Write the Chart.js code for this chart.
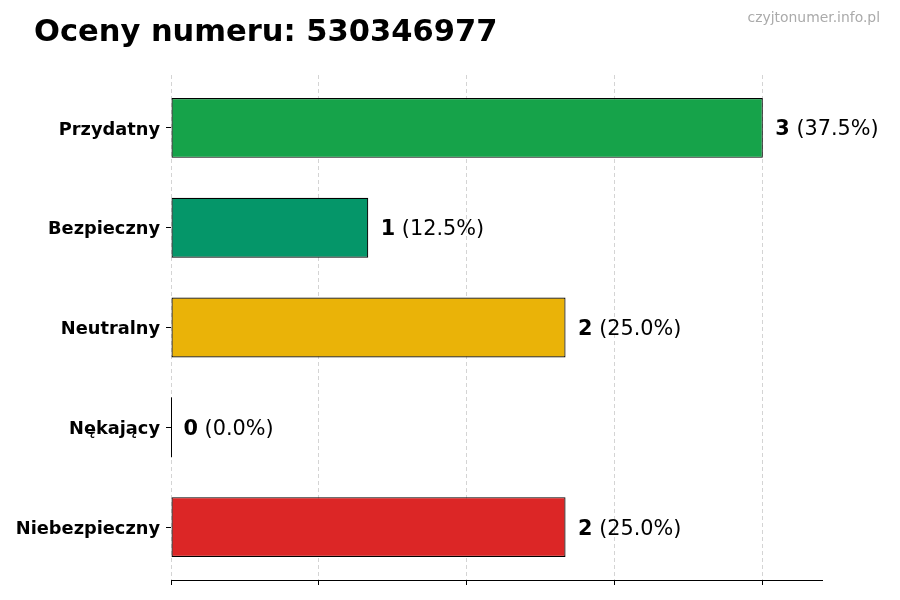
<!DOCTYPE html>
<html>
<head>
<meta charset="utf-8">
<script src="https://cdn.jsdelivr.net/npm/chart.js@4.4.1/dist/chart.umd.min.js"></script>
<style>
    html, body { margin: 0; padding: 0; background: #ffffff; }
    #wrap { position: relative; width: 900px; height: 600px; }
</style>
</head>
<body>
<div id="wrap"><canvas id="canvasOceny"></canvas></div>
<script>
// dane wykresu
var tytul = 'Oceny numeru: 530346977';
var znakWodny = 'czyjtonumer.info.pl';
var kategorie = ['Przydatny', 'Bezpieczny', 'Neutralny', 'Nękający', 'Niebezpieczny'];
var liczby = [3, 1, 2, 0, 2];
var kolory = ['#16a34a', '#059669', '#eab308', '#7c3aed', '#dc2626'];
var xTicki = [0, 0.75, 1.5, 2.25, 3];

var FONT = '"DejaVu Sans", "Liberation Sans", sans-serif';

var suma = liczby.reduce(function (a, b) { return a + b; }, 0);
var maxX = Math.max.apply(null, liczby) * 1.1;

var punkty = liczby.map(function (v, i) {
    return { x: v, y: i };
});

var etykiety = {
    id: 'etykiety',
    afterDatasetsDraw: function (chart) {
        var ctx = chart.ctx;
        var meta = chart.getDatasetMeta(0);
        var x0 = chart.scales.x.getPixelForValue(0);
        ctx.save();
        meta.data.forEach(function (bar, i) {
            var v = liczby[i];
            if (v === 0) {
                ctx.strokeStyle = '#000000';
                ctx.lineWidth = 1;
                ctx.beginPath();
                ctx.moveTo(x0 + 0.5, bar.y - bar.height / 2);
                ctx.lineTo(x0 + 0.5, bar.y + bar.height / 2);
                ctx.stroke();
            }
            var x = bar.x + 12.5;
            var y = bar.y + 2;
            var procent = ' (' + (v / suma * 100).toFixed(1) + '%)';
            ctx.fillStyle = '#000000';
            ctx.textBaseline = 'middle';
            ctx.textAlign = 'left';
            ctx.font = 'bold 20.8px ' + FONT;
            ctx.fillText(String(v), x, y);
            var w = ctx.measureText(String(v)).width;
            ctx.font = '20.8px ' + FONT;
            ctx.fillText(procent, x + w, y);
        });
        ctx.restore();
    },
    afterDraw: function (chart) {
        var ctx = chart.ctx;
        ctx.save();
        ctx.fillStyle = '#000000';
        ctx.textBaseline = 'alphabetic';
        ctx.textAlign = 'left';
        ctx.font = 'bold 30.5px ' + FONT;
        ctx.fillText(tytul, 34, 41);
        ctx.fillStyle = '#aaaaaa';
        ctx.textAlign = 'right';
        ctx.font = '13.9px ' + FONT;
        ctx.fillText(znakWodny, 880, 22);
        ctx.restore();
    }
};

new Chart(document.getElementById('canvasOceny'), {
    type: 'bar',
    data: {
        datasets: [{
            data: punkty,
            backgroundColor: kolory,
            borderColor: '#000000',
            borderWidth: 1.2,
            borderSkipped: false,
            barPercentage: 0.6,
            categoryPercentage: 1
        }]
    },
    options: {
        indexAxis: 'y',
        responsive: true,
        maintainAspectRatio: false,
        animation: false,
        layout: {
            padding: { top: 75, right: 78, bottom: 0, left: 0 }
        },
        plugins: {
            legend: { display: false },
            tooltip: { enabled: false }
        },
        scales: {
            x: {
                type: 'linear',
                min: 0,
                max: maxX,
                afterFit: function (scale) { scale.height = 20; },
                afterBuildTicks: function (scale) {
                    scale.ticks = xTicki.map(function (v) { return { value: v }; });
                },
                ticks: { display: false },
                border: { display: true, color: '#000000', width: 1, dash: [4, 3] },
                grid: {
                    color: '#d4d4d4',
                    lineWidth: 1,
                    offset: false,
                    drawTicks: true,
                    tickLength: 5,
                    tickColor: '#000000',
                    tickBorderDash: []
                }
            },
            y: {
                type: 'linear',
                reverse: true,
                min: -0.53,
                max: kategorie.length - 1 + 0.53,
                offset: false,
                afterFit: function (scale) { scale.width = 171; },
                afterBuildTicks: function (scale) {
                    scale.ticks = kategorie.map(function (k, i) { return { value: i }; });
                },
                ticks: {
                    padding: 6,
                    labelOffset: 2,
                    color: '#000000',
                    font: { family: FONT, size: 17.8, weight: 'bold' },
                    callback: function (value) { return kategorie[value]; }
                },
                border: { display: false },
                grid: {
                    display: true,
                    offset: false,
                    drawOnChartArea: false,
                    drawTicks: true,
                    tickLength: 5,
                    tickColor: '#000000'
                }
            }
        }
    },
    plugins: [etykiety]
});
</script>
</body>
</html>
